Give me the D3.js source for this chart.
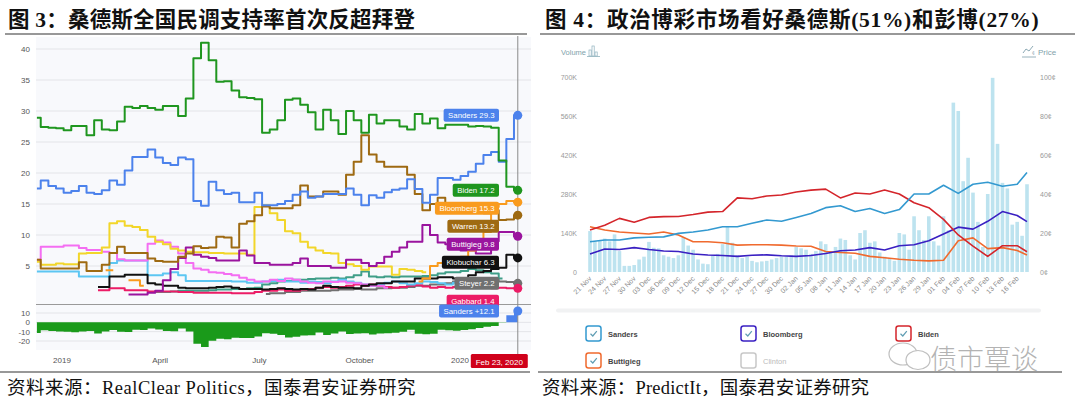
<!DOCTYPE html>
<html><head><meta charset="utf-8">
<script src="https://cdn.jsdelivr.net/npm/d3@7/dist/d3.min.js"></script>
<style>
body{margin:0;background:#fff;}
svg{display:block;}
</style></head><body>
<svg id="c" width="1080" height="405"></svg>
<script>
// ================= LEFT CHART DATA (RealClear Politics, weekly from 2018-12-09 to 2020-02-23) =================
const pollStart = new Date(2018, 11, 9);
const pollEnd = new Date(2020, 1, 24);
const biden = [28.9,27.4,27.3,27.2,26.9,27.6,27.6,26.1,28.5,27.0,
  26.9,28.3,30.7,30.5,30.8,30.5,30.2,30.8,30.8,29.2,
  32.0,38.5,41.0,38.2,34.7,34.8,33.3,32.2,32.1,31.9,
  26.5,27.0,28.5,31.8,32.0,31.0,29.8,27.0,30.2,28.5,
  26.3,30.0,28.5,26.5,29.4,28.0,28.5,28.5,27.5,27.0,
  29.5,28.0,28.8,27.2,27.8,27.8,27.8,27.5,27.6,27.5,
  27.3,22.0,17.8,17.2];
const sanders = [17.5,18.8,17.9,17.5,16.8,17.1,17.9,16.8,16.6,17.2,
  18.8,18.1,20.4,22.6,22.6,23.8,22.5,21.6,21.3,22.5,
  22.2,15.5,14.7,18.6,17.2,16.6,16.8,15.3,15.3,16.8,
  14.8,14.8,15.0,15.5,16.5,17.0,16.0,16.2,16.6,16.6,
  16.6,17.5,16.5,14.8,16.4,16.0,16.9,17.3,17.5,19.0,
  17.4,15.2,16.5,19.2,19.2,18.9,19.5,20.2,21.5,22.9,
  23.4,21.8,25.5,29.3];
const warren = [6.0,4.6,4.6,4.6,4.6,4.6,5.6,4.2,4.2,5.2,
  7.1,8.1,7.1,7.1,7.1,6.2,5.8,5.7,5.7,6.5,
  7.0,8.2,7.9,8.0,9.7,9.6,8.0,11.8,12.2,13.2,
  14.6,14.3,14.3,14.3,14.8,18.0,16.2,16.2,17.0,17.0,
  16.5,19.7,21.8,26.1,23.0,21.8,21.0,21.0,21.0,19.7,
  16.6,14.0,15.0,16.0,15.0,14.5,14.5,14.3,13.8,13.5,
  14.0,12.4,12.5,13.2];
const bloomberg = [null,null,null,null,null,null,null,null,null,4.3,
  4.3,null,2.7,2.7,1.8,null,null,null,null,null,
  null,null,null,null,null,null,null,null,null,null,
  null,null,null,null,null,null,null,null,null,null,
  null,null,null,null,null,null,null,null,null,null,
  2.5,3.0,5.0,5.5,5.2,6.0,6.5,7.5,8.5,10.5,
  14.5,15.0,15.5,15.3];
const buttigieg = [null,null,null,null,null,null,null,null,null,null,
  null,null,0.4,0.4,0.4,0.7,1.0,2.7,4.5,6.3,
  8.0,6.8,6.5,6.3,5.9,5.9,5.9,7.5,6.7,5.5,
  5.5,5.2,5.2,5.2,5.5,6.2,5.0,5.0,5.0,4.7,
  4.7,6.0,6.0,5.5,5.0,5.5,6.5,7.3,8.0,8.9,
  8.9,11.6,10.0,8.8,8.5,8.0,7.5,7.5,7.0,7.0,
  9.0,10.5,10.5,9.8];
const harris = [5.7,5.2,5.2,5.4,5.3,5.3,7.0,7.1,7.1,8.0,
  11.9,12.2,11.5,11.3,10.8,9.7,8.9,8.5,7.8,7.5,
  7.3,7.2,7.2,7.1,7.1,7.0,7.0,7.0,6.8,14.5,
  14.8,13.5,12.4,10.6,10.3,8.9,8.0,7.5,7.1,7.0,
  5.5,5.3,5.0,4.4,4.9,4.9,4.9,3.6,4.5,4.4,
  4.2,4.0,null,null,null,null,null,null,null,null,
  null,null,null,null];
const orourke = [6.0,8.1,8.1,8.1,8.3,8.3,7.9,7.6,7.6,7.3,
  7.1,6.1,5.9,5.9,5.9,8.6,9.1,8.8,8.1,7.0,
  5.5,4.6,4.4,4.0,3.9,3.7,3.5,3.1,2.8,2.5,
  2.5,2.8,2.6,3.0,2.8,2.5,2.3,2.2,2.5,2.4,
  2.5,2.3,2.2,2.0,1.8,1.8,1.5,null,null,null,
  null,null,null,null,null,null,null,null,null,null,
  null,null,null,null];
const booker = [4.1,4.1,4.1,4.1,4.1,4.1,3.3,3.3,3.3,3.3,
  5.5,5.9,5.9,5.9,5.9,3.5,3.5,3.8,4.0,3.5,
  2.6,2.6,2.6,2.6,2.6,2.6,2.5,2.5,2.3,2.3,
  2.5,2.6,2.8,2.5,2.5,2.3,2.5,2.4,2.2,2.5,
  2.8,2.5,2.3,2.0,1.8,2.0,2.3,2.5,2.2,2.0,
  2.2,2.5,2.4,2.2,2.0,2.3,2.0,null,null,null,
  null,null,null,null];
const klobuchar = [null,null,null,null,null,null,null,null,1.6,1.6,
  3.3,3.3,3.6,3.6,3.6,2.2,2.0,1.8,1.8,1.5,
  1.4,1.4,1.4,1.5,1.6,1.7,1.5,1.3,1.3,1.3,
  1.2,1.3,1.4,1.3,1.2,1.3,1.2,1.5,1.8,1.6,
  1.5,1.5,1.4,1.8,2.0,2.2,2.2,2.5,2.5,2.5,
  3.0,3.0,3.0,3.2,3.2,3.0,3.0,3.5,4.0,4.2,
  4.5,4.7,6.8,6.3];
const gabbard = [null,null,null,null,null,null,null,null,1.1,1.1,
  1.4,1.4,1.1,1.1,1.1,0.9,0.9,0.9,0.9,0.8,
  0.8,0.7,0.7,0.7,0.7,0.7,0.6,0.6,0.6,0.8,
  1.0,1.0,1.2,1.0,1.0,1.2,1.3,1.5,1.6,1.5,
  1.6,1.8,2.0,1.8,2.0,1.8,1.6,1.5,1.6,1.8,
  1.9,1.7,1.5,1.6,1.5,1.6,1.8,1.8,1.6,1.5,
  1.4,1.5,1.4,1.4];
const steyer = [null,null,null,null,null,null,null,null,null,null,
  null,null,null,null,null,null,null,null,null,null,
  null,null,null,null,null,null,null,null,null,null,
  0.5,0.6,0.6,0.8,0.8,1.0,1.0,1.0,1.0,1.1,
  1.2,1.2,1.3,1.2,1.2,1.4,1.4,1.5,1.5,1.6,
  1.8,1.8,2.0,2.0,2.2,2.5,2.5,2.8,3.0,3.0,
  2.8,2.5,2.4,2.2];
const yang = [null,null,null,null,null,null,null,null,null,null,
  null,null,null,null,null,0.8,0.8,0.8,0.9,1.0,
  1.0,1.0,1.0,1.1,1.2,1.2,1.3,1.3,1.4,1.5,
  2.0,2.2,2.5,2.6,2.8,2.8,2.9,3.0,3.0,3.1,
  3.0,3.2,3.5,4.1,3.3,3.2,3.3,3.2,3.3,3.3,
  3.3,3.4,3.5,3.8,4.0,4.0,4.2,4.5,4.3,4.0,
  3.8,3.0,null,null];
const leftYTicks = [5,10,15,20,25,30,35,40];
const spreadTicks = [10,0,-10,-20];
const leftXTicks = [["2019-01-01","2019"],["2019-04-01","April"],["2019-07-01","July"],["2019-10-01","October"],["2020-01-01","2020"]];
const crossDate = "2020-02-23";
const crossLabel = "Feb 23, 2020";

// ================= RIGHT CHART DATA (PredictIt) =================
const volStart = new Date(2019, 10, 21);
const volumeK = [147,110,115,120,110,135,75,22,22,25,
  45,55,108,87,85,60,55,50,60,125,
  95,80,45,30,28,60,65,100,165,105,
  60,50,55,40,35,38,40,45,50,55,
  55,60,90,85,80,65,75,110,100,70,
  90,120,115,60,45,140,150,105,110,70,
  55,50,40,140,135,80,200,150,115,200,
  110,95,200,150,608,578,326,410,285,180,
  90,280,697,460,320,300,170,180,130,315];
const priceDates = ["2019-11-21","2019-11-24","2019-11-27","2019-11-30","2019-12-03","2019-12-06","2019-12-09","2019-12-12","2019-12-15","2019-12-18",
  "2019-12-21","2019-12-24","2019-12-27","2019-12-30","2020-01-02","2020-01-05","2020-01-08","2020-01-11","2020-01-14","2020-01-17",
  "2020-01-20","2020-01-23","2020-01-26","2020-01-29","2020-02-01","2020-02-04","2020-02-07","2020-02-10","2020-02-13","2020-02-16","2020-02-18"];
const pSanders = [15.5,16.4,16.4,17.5,17.8,18,19.8,20.5,21.5,23.2,23.2,25,26.7,26,28,30,33,34,31,32.6,30,32,40,40,44.5,40.3,45,46,44,45,51];
const pBiden = [21.5,24,27.5,25.5,28,28.4,28.5,29.5,30.7,31,38,37.6,39,39.5,41,42,42.5,38,40.5,40,42,40,35.5,33,27,19,13.3,8,13.5,13.5,10.4];
const pButtigieg = [23.2,21.5,20.5,20,19.5,20.5,19,15.5,15.5,15,13.8,14,14,13.8,13.3,13.2,10.5,10,9.6,8,7.3,6.5,6,5.7,6,16,17.5,12,12.5,11,8.7];
const pBloomberg = [9.2,11.8,11.5,12.5,11.5,10.8,10.5,9.2,8.7,8.5,8,8.6,8.8,8.3,8,8.5,9.5,10.9,11.3,12.5,11.3,13.5,14,16,19.5,23,22,26,31,29,25.8];
const volTicks = [0,140,280,420,560,700];
const priceTicks = [0,20,40,60,80,100];
const dateTickLabels = ["21 Nov","24 Nov","27 Nov","30 Nov","03 Dec","06 Dec","09 Dec","12 Dec","15 Dec","18 Dec","21 Dec","24 Dec","27 Dec","30 Dec","02 Jan","05 Jan","08 Jan","11 Jan","14 Jan","17 Jan","20 Jan","23 Jan","26 Jan","29 Jan","01 Feb","04 Feb","07 Feb","10 Feb","13 Feb","16 Feb"];
const legendNames = ["Sanders","Bloomberg","Biden","Buttigieg","Clinton"];

// ================= DRAWING =================
const svg = d3.select("#c");
const parse = d3.timeParse("%Y-%m-%d");
const SERIF = "'Liberation Serif','Noto Sans CJK SC',serif";
const SANS = "'Liberation Sans','DejaVu Sans',Arial,sans-serif";

// titles & footers
function titleText(x, y, str, size, weight, ls){
  svg.append("text").attr("x",x).attr("y",y).attr("font-family",SERIF)
    .attr("font-size",size).attr("font-weight",weight).attr("letter-spacing",ls||0).attr("fill","#111").text(str);
}
titleText(8, 27, "图 3：桑德斯全国民调支持率首次反超拜登", 21.5, "bold", 0.2);
titleText(545, 27, "图 4：政治博彩市场看好桑德斯(51%)和彭博(27%)", 21.5, "bold", 0.7);
titleText(7, 394, "资料来源：RealClear Politics，国泰君安证券研究", 18.5, "normal", 0.5);
titleText(542, 394, "资料来源：PredictIt，国泰君安证券研究", 18.5, "normal", 0.2);
[[5,527,34],[540,1075,34],[0,530,372],[538,1062,372]].forEach(([a,b,y])=>{
  svg.append("line").attr("x1",a).attr("x2",b).attr("y1",y).attr("y2",y).attr("stroke","#333").attr("stroke-width",1.2);
});

// ---------- left chart ----------
const L = svg.append("g");
const pollDates = d3.timeDay.range(pollStart, pollEnd, 7);
const xL = d3.scaleTime().domain([parse("2019-01-01"), parse("2020-01-01")]).range([62, 460]);
const yL = d3.scaleLinear().domain([0, 40]).range([297, 49]);
const yS = d3.scaleLinear().domain([-20, 10]).range([341, 313]);
const plotL = 36, plotR = 531;

L.append("rect").attr("x",plotL).attr("y",37).attr("width",plotR-plotL).attr("height",313).attr("fill","#f8f9fc");
// grid
leftYTicks.forEach(t=>{
  L.append("line").attr("x1",plotL).attr("x2",plotR).attr("y1",yL(t)).attr("y2",yL(t)).attr("stroke","#e3e4e8").attr("stroke-width",1);
  L.append("text").attr("x",30).attr("y",yL(t)+3).attr("text-anchor","end").attr("font-family",SANS).attr("font-size",8).attr("fill","#555").text(t);
});
spreadTicks.forEach(t=>{
  L.append("line").attr("x1",plotL).attr("x2",plotR).attr("y1",yS(t)).attr("y2",yS(t)).attr("stroke","#e3e4e8").attr("stroke-width",1);
  L.append("text").attr("x",30).attr("y",yS(t)+3).attr("text-anchor","end").attr("font-family",SANS).attr("font-size",8).attr("fill","#555").text(t);
});
L.append("line").attr("x1",plotL).attr("x2",plotR).attr("y1",304.5).attr("y2",304.5).attr("stroke","#9a9a9a").attr("stroke-width",1.2);

L.append("clipPath").attr("id","clipMain").append("rect").attr("x",plotL).attr("y",37).attr("width",plotR-plotL).attr("height",266);

const lineL = d3.line().defined(d=>d.v!=null).x(d=>xL(d.date)).y(d=>yL(d.v)).curve(d3.curveStep);
const seriesL = [
  {name:"Yang", values:yang, color:"#3f9e88"},
  {name:"Steyer", values:steyer, color:"#707070"},
  {name:"Gabbard", values:gabbard, color:"#ec1c66"},
  {name:"Booker", values:booker, color:"#5cc6f2"},
  {name:"O'Rourke", values:orourke, color:"#f46ef2"},
  {name:"Harris", values:harris, color:"#f2d62a"},
  {name:"Klobuchar", values:klobuchar, color:"#111111"},
  {name:"Buttigieg", values:buttigieg, color:"#9a149e"},
  {name:"Bloomberg", values:bloomberg, color:"#f99b1e"},
  {name:"Warren", values:warren, color:"#9e6a12"},
  {name:"Sanders", values:sanders, color:"#4c82ec"},
  {name:"Biden", values:biden, color:"#1f961f"}
];
const gLines = L.append("g").attr("clip-path","url(#clipMain)");
seriesL.forEach(s=>{
  const data = pollDates.map((d,i)=>({date:d, v:s.values[i]}));
  gLines.append("path").datum(data).attr("d",lineL).attr("fill","none")
    .attr("stroke",s.color).attr("stroke-width",2).attr("stroke-linejoin","round");
});

// spread panel (Sanders - Biden)
const spread = pollDates.map((d,i)=>({date:d, v: sanders[i]-biden[i]}));
const areaNeg = d3.area().x(d=>xL(d.date)).y0(yS(0)).y1(d=>yS(Math.min(0,d.v))).curve(d3.curveStep);
const areaPos = d3.area().x(d=>xL(d.date)).y0(yS(0)).y1(d=>yS(Math.max(0,d.v))).curve(d3.curveStep);
L.append("path").datum(spread).attr("d",areaNeg).attr("fill","#1a9a1a");
L.append("path").datum(spread).attr("d",areaPos).attr("fill","#4c82ec");

// x axis labels
leftXTicks.forEach(([d,lab])=>{
  L.append("text").attr("x",xL(parse(d))).attr("y",363).attr("text-anchor","middle").attr("font-family",SANS).attr("font-size",8).attr("fill","#555").text(lab);
});

// crosshair
const xc = xL(parse(crossDate));
L.append("line").attr("x1",xc).attr("x2",xc).attr("y1",36).attr("y2",354).attr("stroke","#8a8a8a").attr("stroke-width",1);
L.append("rect").attr("x",xc-47).attr("y",354).attr("width",57).attr("height",14).attr("rx",1.5).attr("fill","#d0021b");
L.append("text").attr("x",xc-18.5).attr("y",364.5).attr("text-anchor","middle").attr("font-family",SANS).attr("font-size",8).attr("fill","#fff").text(crossLabel);

// end dots and labels
const last = pollDates.length-1;
const labelSet = ["Sanders","Biden","Bloomberg","Warren","Buttigieg","Klobuchar","Steyer","Gabbard"]
  .map(n=>seriesL.find(s=>s.name===n))
  .map(s=>({name:s.name, color:s.color, v:s.values[last], y:yL(s.values[last])}));
labelSet.forEach(l=>{
  L.append("circle").attr("cx",xc).attr("cy",l.y).attr("r",4.5).attr("fill",l.color);
});
const sorted = labelSet.slice().sort((a,b)=>a.y-b.y);
let prevY = -1e9;
sorted.forEach(l=>{ l.ly = Math.max(l.y, prevY+18); prevY = l.ly; });
function drawLabel(text, color, ly){
  const g = L.append("g");
  const t = g.append("text").attr("font-family",SANS).attr("font-size",7.8).attr("fill","#fff").text(text);
  const w = t.node().getComputedTextLength();
  const right = 499;
  g.insert("rect","text").attr("x",right-w-9).attr("y",ly-6.5).attr("width",w+9).attr("height",13).attr("rx",2).attr("fill",color);
  t.attr("x",right-w-4.5).attr("y",ly+3);
}
sorted.forEach(l=>drawLabel(l.name+" "+d3.format(".1f")(l.v), l.color, l.ly));
const spLast = spread[last].v;
L.append("circle").attr("cx",xc).attr("cy",yS(spLast)).attr("r",4.5).attr("fill","#4c82ec");
drawLabel("Sanders +"+d3.format(".1f")(spLast), "#4c82ec", yS(spLast));

// ---------- right chart ----------
const R = svg.append("g");
const volDates = d3.timeDay.range(volStart, d3.timeDay.offset(volStart, volumeK.length));
const xR = d3.scaleTime().domain([volDates[0], volDates[volDates.length-1]]).range([590, 1027]);
const yV = d3.scaleLinear().domain([0, 700]).range([272, 77]);
const yP = d3.scaleLinear().domain([0, 100]).range([272, 77]);

R.selectAll("rect.bar").data(volDates).join("rect").attr("class","bar")
  .attr("x",d=>xR(d)-1.8).attr("width",3.6)
  .attr("y",(d,i)=>yV(volumeK[i])).attr("height",(d,i)=>yV(0)-yV(volumeK[i]))
  .attr("fill","#bde3ef");

volTicks.forEach(t=>{
  R.append("text").attr("x",577).attr("y",yV(t)+2.5).attr("text-anchor","end").attr("font-family",SANS).attr("font-size",7).attr("fill","#999").text(t===0?"0":t+"K");
});
priceTicks.forEach(t=>{
  R.append("text").attr("x",1040).attr("y",yP(t)+2.5).attr("font-family",SANS).attr("font-size",7).attr("fill","#999").text(t+"¢");
});
dateTickLabels.forEach((lab,i)=>{
  const x = xR(volDates[i*3]);
  R.append("text").attr("transform",`translate(${x+2},${279}) rotate(-45)`).attr("text-anchor","end")
    .attr("font-family",SANS).attr("font-size",7).attr("fill","#888").text(lab);
});

const pd = priceDates.map(parse);
const lineP = d3.line().x((d,i)=>xR(pd[i])).y(d=>yP(d));
[[pButtigieg,"#f06a2e"],[pBloomberg,"#3a20c2"],[pBiden,"#d4252b"],[pSanders,"#3399d0"]].forEach(([vals,c])=>{
  R.append("path").datum(vals).attr("d",lineP).attr("fill","none").attr("stroke",c).attr("stroke-width",1.6).attr("stroke-linejoin","round");
});

// header labels with icons
R.append("text").attr("x",561).attr("y",55).attr("font-family",SANS).attr("font-size",7.5).attr("fill","#7f9fab").text("Volume");
[[589,50,6],[592,46,10],[595,52,4]].forEach(([x,y,h])=>R.append("rect").attr("x",x).attr("y",y).attr("width",2.2).attr("height",h).attr("fill","none").attr("stroke","#8fb1bd").attr("stroke-width",0.7));
R.append("line").attr("x1",587).attr("x2",600).attr("y1",56.5).attr("y2",56.5).attr("stroke","#8fb1bd").attr("stroke-width",0.8);
R.append("path").attr("d","M1023,53 L1026,49 L1029,51 L1033,46").attr("fill","none").attr("stroke","#7f9fab").attr("stroke-width",0.9);
R.append("text").attr("x",1032).attr("y",55).attr("font-family",SANS).attr("font-size",5).attr("fill","#7f9fab").text("¢");
R.append("line").attr("x1",1022).attr("x2",1036).attr("y1",57).attr("y2",57).attr("stroke","#7f9fab").attr("stroke-width",0.8);
R.append("text").attr("x",1038).attr("y",55).attr("font-family",SANS).attr("font-size",8).attr("fill","#7f9fab").text("Price");

// light band
R.append("rect").attr("x",556).attr("y",308.5).attr("width",485).attr("height",4).attr("rx",2).attr("fill","#f1f2f3");

// legend
const legendColors = ["#3399d0","#3a20c2","#d4252b","#f06a2e","#c8c8c8"];
legendNames.forEach((n,i)=>{
  const col = i%3, row = Math.floor(i/3);
  const x = 586 + col*155, y = 326 + row*27;
  const checked = n!=="Clinton";
  R.append("rect").attr("x",x).attr("y",y).attr("width",15).attr("height",15).attr("rx",2.5)
    .attr("fill","#fff").attr("stroke",legendColors[i]).attr("stroke-width",1.5);
  if(checked) R.append("path").attr("d",`M${x+4.5},${y+7.8} L${x+6.8},${y+10} L${x+10.8},${y+5.2}`)
    .attr("fill","none").attr("stroke","#5f9db3").attr("stroke-width",1.2);
  R.append("text").attr("x",x+22).attr("y",y+10.5).attr("font-family",SANS).attr("font-size",7.5)
    .attr("font-weight",checked?"bold":"normal").attr("fill",checked?"#444":"#bbb").text(n);
});

// watermark
const wm = svg.append("g").attr("opacity",0.75);
wm.append("ellipse").attr("cx",903).attr("cy",354).attr("rx",14).attr("ry",11).attr("fill","none").attr("stroke","#aaa").attr("stroke-width",1.2);
wm.append("ellipse").attr("cx",918).attr("cy",360).attr("rx",12).attr("ry",9.5).attr("fill","#fff").attr("stroke","#aaa").attr("stroke-width",1.2);
wm.append("text").attr("x",930).attr("y",369).attr("font-family","'Noto Sans CJK SC',sans-serif").attr("font-weight",300)
  .attr("font-size",27).attr("fill","#9a9a9a").text("债市覃谈");
</script></body></html>
